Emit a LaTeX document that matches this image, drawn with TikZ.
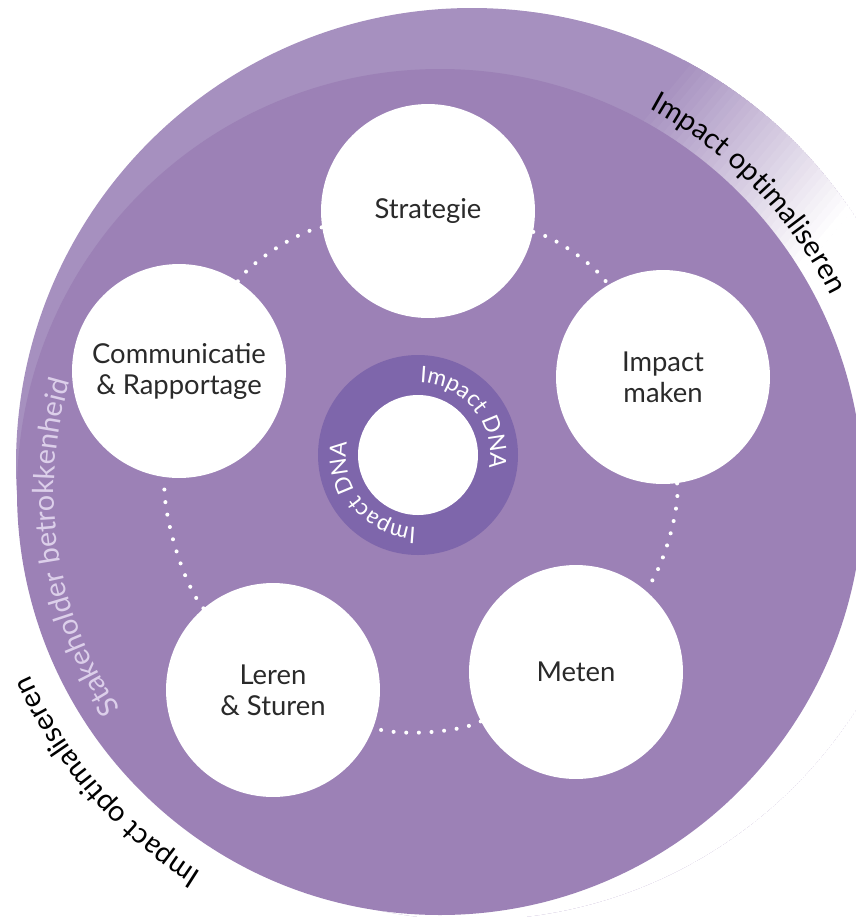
\documentclass[tikz,border=0pt]{standalone}
\usepackage{fontspec}
\setmainfont{Lato}
\usetikzlibrary{decorations.text}
\definecolor{diskcol}{HTML}{9C81B6}
\definecolor{bandcol}{HTML}{A690BF}
\definecolor{ringcol}{HTML}{7E66AB}
\definecolor{txtcol}{HTML}{2A2A2A}
\definecolor{stakecol}{HTML}{DCCFEA}
\newcommand{\nodefont}{\fontsize{15.6}{17.6}\selectfont}
\newcommand{\outfont}{\fontsize{16.4}{18}\selectfont}
\newcommand{\dnafont}{\fontsize{13}{14}\selectfont}
\begin{document}
\begin{tikzpicture}[x=0.02cm, y=0.02cm,
  stage/.style={circle, fill=white, minimum size=4.28cm, inner sep=0pt, align=center, text=txtcol, font=\nodefont},
  dotline/.style={white, line width=2.3pt, dash pattern=on 0pt off 7.2pt, line cap=round},
  arcbend/.style={bend left=24, looseness=0.6},
  curvetext/.style={decorate, decoration={text along path, text align=center, text={#1}}}
]
\useasboundingbox (0,0) rectangle (856,-917);
\clip (0,0) rectangle (856,-917);
% light outer band with fade
\begin{scope}
  \clip (472,-464) circle[radius=456];
  \fill[bandcol] (472,-464) circle[radius=456];
  \begin{scope}[rotate=-39.7]
    \foreach \i in {0,...,29}{
      \pgfmathsetmacro{\pa}{565+\i*7.5}
      \pgfmathsetmacro{\pc}{100-\i*100/29}
      \fill[bandcol!\pc!white] (\pa,-1500) rectangle (\pa+8,1500);
    }
    \fill[white] (790,-1500) rectangle (3000,1500);
  \end{scope}
\end{scope}
% main disk
\fill[diskcol] (440,-492) circle[radius=423];
% DNA ring
\fill[ringcol] (418,-455) circle[radius=100];
\fill[white] (418,-455) circle[radius=60];
% stages
\node[stage] (strat) at (428,-211) {Strategie};
\node[stage] (imp) at (663,-377) {Impact\\maken};
\node[stage] (meten) at (576,-672) {Meten};
\node[stage] (leren) at (273,-690) {Leren\\\&~Sturen};
\node[stage] (comm) at (179,-371) {Communicatie\\\&~Rapportage};
% dotted connectors
\draw[dotline] (strat) to[arcbend] (imp);
\draw[dotline] (imp) to[arcbend] (meten);
\draw[dotline] (meten) to[arcbend] (leren);
\draw[dotline] (leren) to[arcbend] (comm);
\draw[dotline] (comm) to[arcbend] (strat);
% curved texts
\path[curvetext={|\outfont\color{black}|Impact optimaliseren}]
  (440,-492) ++(79:437) arc[start angle=79, end angle=9, radius=437];
\path[curvetext={|\outfont\color{black}|Impact optimaliseren}]
  (440,-492) ++(256:449) arc[start angle=256, end angle=186, radius=449];
\path[curvetext={|\outfont\color{stakecol}|Stakeholder betrokkenheid}]
  (440,-492) ++(230:386) arc[start angle=230, end angle=147.5, radius=386];
\path[curvetext={|\dnafont\color{white}|Impact DNA}]
  (418,-455) ++(119:72) arc[start angle=119, end angle=-41, radius=72];
\path[curvetext={|\dnafont\color{white}|Impact DNA}]
  (418,-455) ++(299:72) arc[start angle=299, end angle=139, radius=72];
\end{tikzpicture}
\end{document}
